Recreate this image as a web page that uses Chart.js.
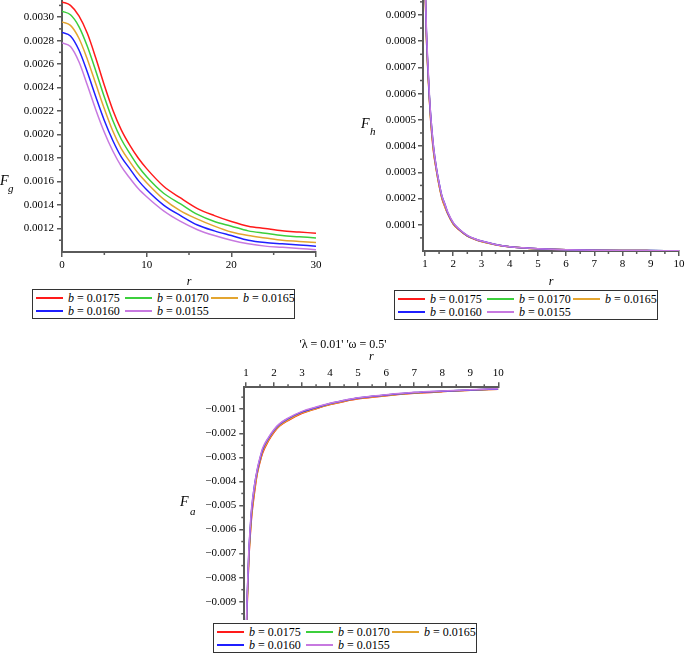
<!DOCTYPE html>
<html><head><meta charset="utf-8">
<script src="https://cdn.jsdelivr.net/npm/chart.js@4/dist/chart.umd.min.js"></script>
<style>
html,body{margin:0;padding:0;background:#fff;width:685px;height:656px;overflow:hidden;}
body{position:relative;font-family:"Liberation Serif",serif;}
canvas{position:absolute;}
.lab{position:absolute;font-family:"Liberation Serif",serif;font-style:italic;color:#000;line-height:1;white-space:nowrap;z-index:3;}
.leg{position:absolute;border:1.5px solid #333;box-sizing:border-box;background:#fff;z-index:2;}
.it{position:absolute;height:12px;font-size:12px;line-height:12px;white-space:nowrap;color:#000;}
.it .ln{position:absolute;left:0;top:5px;width:27px;height:2px;}
.it .tx{position:absolute;left:32px;top:0;}
</style></head>
<body>
<canvas id="c1" width="340" height="290" style="left:0;top:0"></canvas>
<canvas id="c2" width="340" height="290" style="left:345px;top:0"></canvas>
<canvas id="c3" width="366" height="290" style="left:160px;top:330px"></canvas>

<div class="lab" style="left:0px;top:174px;font-size:14px">F</div>
<div class="lab" style="left:8px;top:183px;font-size:11px">g</div>
<div class="lab" style="left:361px;top:117px;font-size:14px">F</div>
<div class="lab" style="left:370px;top:126px;font-size:11px">h</div>
<div class="lab" style="left:180px;top:495px;font-size:14px">F</div>
<div class="lab" style="left:190px;top:506px;font-size:11px">a</div>

<div id="leg1" class="leg" style="left:32px;top:289px;width:263px;height:30px"></div>
<div id="leg2" class="leg" style="left:394px;top:290px;width:264px;height:30px"></div>
<div id="leg3" class="leg" style="left:213px;top:623px;width:264px;height:30px"></div>

<script>
// ---------- data ----------
const bValues = ['0.0175', '0.0170', '0.0165', '0.0160', '0.0155'];
const colors = ['#ff1a1a', '#3ccf3c', '#e3a530', '#1f1fff', '#c779e0'];

// F_g panel
const rG = [0, 1, 2, 3, 4, 5, 6, 7, 8, 9, 10, 12, 14, 16, 18, 20, 22, 24, 26, 28, 30];
const fg0175 = [0.00313, 0.00310, 0.00301, 0.00286, 0.00265, 0.00242, 0.00221, 0.00204, 0.00191, 0.00180, 0.00171, 0.00156, 0.00146, 0.00137, 0.00131, 0.00126, 0.00122, 0.00120, 0.00118, 0.00117, 0.00116];
const fg0170 = [0.00305, 0.00302, 0.00292, 0.00275, 0.00254, 0.00232, 0.00212, 0.00196, 0.00184, 0.00173, 0.00164, 0.00150, 0.00141, 0.00132, 0.00126, 0.00122, 0.00118, 0.00116, 0.00114, 0.00113, 0.00112];
const fg0165 = [0.00296, 0.00293, 0.00282, 0.00264, 0.00243, 0.00222, 0.00203, 0.00188, 0.00177, 0.00167, 0.00159, 0.00145, 0.00135, 0.00128, 0.00122, 0.00117, 0.00114, 0.00112, 0.00110, 0.00109, 0.00108];
const fg0160 = [0.00287, 0.00284, 0.00272, 0.00253, 0.00232, 0.00212, 0.00195, 0.00181, 0.00171, 0.00161, 0.00153, 0.00140, 0.00131, 0.00123, 0.00118, 0.00114, 0.00110, 0.00108, 0.00107, 0.00106, 0.00105];
const fg0155 = [0.00278, 0.00275, 0.00262, 0.00242, 0.00221, 0.00202, 0.00186, 0.00173, 0.00163, 0.00154, 0.00147, 0.00135, 0.00126, 0.00119, 0.00114, 0.00110, 0.00107, 0.00105, 0.00104, 0.00103, 0.00102];
const gXTicks = [0, 10, 20, 30];
const gXMinor = [5, 15, 25];
const gYTicks = [0.0012, 0.0014, 0.0016, 0.0018, 0.0020, 0.0022, 0.0024, 0.0026, 0.0028, 0.0030];
const gYMinor = [0.0011, 0.0013, 0.0015, 0.0017, 0.0019, 0.0021, 0.0023, 0.0025, 0.0027, 0.0029, 0.0031];

// F_h panel
const rH = [1, 1.05, 1.1, 1.15, 1.2, 1.3, 1.4, 1.5, 1.6, 1.7, 1.8, 2, 2.2, 2.5, 2.8, 3, 3.5, 4, 4.5, 5, 6, 7, 8, 9, 10];
const fh0175 = [0.00102, 0.00082, 0.00069, 0.00059, 0.00050, 0.00038, 0.00031, 0.00025, 0.00020, 0.00017, 0.000143, 0.000103, 0.000081, 0.000057, 0.000043, 0.000036, 0.000024, 0.000016, 0.0000115, 0.0000085, 0.0000048, 0.0000029, 0.0000019, 0.0000014, 0.0000010];
const fh0170 = [0.00103, 0.00083, 0.00070, 0.00060, 0.00051, 0.00039, 0.000315, 0.000255, 0.000205, 0.000175, 0.000146, 0.000105, 0.000083, 0.000058, 0.000044, 0.000037, 0.0000245, 0.0000163, 0.0000118, 0.0000087, 0.0000049, 0.0000030, 0.0000020, 0.0000015, 0.0000010];
const fh0165 = [0.00102, 0.00082, 0.00070, 0.00059, 0.00051, 0.00039, 0.00031, 0.00025, 0.000205, 0.00017, 0.000145, 0.000104, 0.000082, 0.000058, 0.000044, 0.000036, 0.000024, 0.000016, 0.0000117, 0.0000086, 0.0000048, 0.0000029, 0.0000019, 0.0000014, 0.0000010];
const fh0160 = [0.00104, 0.00084, 0.00071, 0.00060, 0.00052, 0.00040, 0.00032, 0.00026, 0.00021, 0.00018, 0.000148, 0.000107, 0.000084, 0.000059, 0.000045, 0.000038, 0.000025, 0.0000165, 0.000012, 0.0000088, 0.0000050, 0.0000030, 0.0000020, 0.0000015, 0.0000010];
const fh0155 = [0.00105, 0.00085, 0.00072, 0.00061, 0.00052, 0.00040, 0.00032, 0.00026, 0.00021, 0.00018, 0.000150, 0.000108, 0.000085, 0.000060, 0.000045, 0.000038, 0.000025, 0.0000166, 0.000012, 0.0000089, 0.0000050, 0.0000030, 0.0000020, 0.0000015, 0.0000010];
const hXTicks = [1, 2, 3, 4, 5, 6, 7, 8, 9, 10];
const hXMinor = [1.5, 2.5, 3.5, 4.5, 5.5, 6.5, 7.5, 8.5, 9.5];
const hYTicks = [0.0001, 0.0002, 0.0003, 0.0004, 0.0005, 0.0006, 0.0007, 0.0008, 0.0009];
const hYMinor = [0.00005, 0.00015, 0.00025, 0.00035, 0.00045, 0.00055, 0.00065, 0.00075, 0.00085, 0.00095];

// F_a panel
const rA = [1, 1.02, 1.05, 1.1, 1.15, 1.2, 1.3, 1.4, 1.5, 1.6, 1.8, 2, 2.2, 2.5, 3, 3.5, 4, 4.5, 5, 6, 7, 8, 9, 10];
const fa0175 = [-0.0118, -0.0103, -0.0089, -0.0073, -0.0063, -0.0055, -0.0045, -0.0037, -0.0032, -0.0028, -0.00232, -0.00196, -0.00170, -0.00147, -0.00117, -0.00098, -0.00081, -0.00068, -0.00057, -0.00044, -0.00034, -0.00027, -0.00021, -0.00017];
const fa0170 = [-0.0115, -0.0100, -0.0087, -0.0071, -0.0061, -0.0053, -0.0043, -0.0036, -0.0031, -0.0027, -0.00225, -0.00190, -0.00165, -0.00142, -0.00113, -0.00095, -0.00078, -0.00065, -0.00054, -0.00042, -0.00032, -0.00025, -0.00020, -0.00016];
const fa0165 = [-0.0117, -0.0102, -0.0088, -0.0072, -0.0062, -0.0054, -0.0044, -0.00365, -0.00315, -0.00275, -0.00229, -0.00193, -0.00168, -0.00145, -0.00115, -0.00097, -0.00080, -0.00067, -0.00056, -0.00043, -0.00033, -0.00026, -0.00021, -0.00017];
const fa0160 = [-0.0114, -0.0099, -0.0086, -0.0070, -0.0060, -0.0052, -0.0042, -0.00355, -0.00305, -0.00265, -0.00221, -0.00187, -0.00162, -0.00139, -0.00111, -0.00093, -0.00076, -0.00064, -0.00053, -0.00041, -0.00031, -0.00025, -0.00020, -0.00016];
const fa0155 = [-0.0113, -0.0098, -0.0085, -0.0069, -0.0059, -0.0051, -0.0042, -0.0035, -0.0030, -0.0026, -0.00218, -0.00184, -0.00160, -0.00137, -0.00109, -0.00091, -0.00075, -0.00063, -0.00052, -0.00040, -0.00030, -0.00024, -0.00019, -0.00015];
const aXTicks = [1, 2, 3, 4, 5, 6, 7, 8, 9, 10];
const aXMinor = [1.5, 2.5, 3.5, 4.5, 5.5, 6.5, 7.5, 8.5, 9.5];
const aYTicks = [-0.001, -0.002, -0.003, -0.004, -0.005, -0.006, -0.007, -0.008, -0.009];
const aYMinor = [-0.0005, -0.0015, -0.0025, -0.0035, -0.0045, -0.0055, -0.0065, -0.0075, -0.0085, -0.0095];
const aTitle = "'λ = 0.01' 'ω = 0.5'";

// ---------- helpers ----------
const FONT = '"Liberation Serif", "Times New Roman", serif';
const AXC = '#5a5a5a';

function series(xs, ys, i) {
  return {
    label: 'b = ' + bValues[i],
    data: xs.map((x, k) => ({x: x, y: ys[k]})),
    borderColor: colors[i], backgroundColor: colors[i],
    borderWidth: 1.5, pointRadius: 0, fill: false,
    cubicInterpolationMode: 'monotone', order: 5 - i
  };
}

const minorTicks = {
  id: 'minorTicks',
  afterDraw(chart, args, o) {
    const ctx = chart.ctx, a = chart.chartArea;
    ctx.save(); ctx.strokeStyle = AXC; ctx.lineWidth = 1.5;
    (o.x || []).forEach(v => {
      const p = chart.scales.x.getPixelForValue(v);
      ctx.beginPath();
      if (o.top) { ctx.moveTo(p, a.top); ctx.lineTo(p, a.top - 3); }
      else { ctx.moveTo(p, a.bottom); ctx.lineTo(p, a.bottom + 3); }
      ctx.stroke();
    });
    (o.y || []).forEach(v => {
      const p = chart.scales.y.getPixelForValue(v);
      ctx.beginPath(); ctx.moveTo(a.left, p); ctx.lineTo(a.left - 3, p); ctx.stroke();
    });
    ctx.restore();
  }
};

function axis(cfg) {
  return {
    type: 'linear', position: cfg.position, min: cfg.min, max: cfg.max,
    afterBuildTicks: s => { s.ticks = cfg.ticks.map(v => ({value: v})); },
    afterFit: s => {
      if (cfg.width !== undefined) s.width = cfg.width;
      if (cfg.height !== undefined) s.height = cfg.height;
      s.paddingTop = 0; s.paddingBottom = 0; s.paddingLeft = 0; s.paddingRight = 0;
    },
    grid: {display: true, drawOnChartArea: false, drawTicks: true, tickLength: 5, color: AXC, lineWidth: 1.5},
    border: {display: true, color: AXC, width: 2},
    ticks: {autoSkip: false, maxRotation: 0, padding: cfg.pad, color: '#000',
            font: {family: FONT, size: 11}, callback: cfg.fmt},
    title: cfg.title ? {display: true, text: cfg.title, color: '#000',
            font: {family: FONT, size: 12, style: 'italic', lineHeight: 1}, padding: cfg.tpad} : {display: false}
  };
}

function makeChart(id, datasets, scales, pad, minor, title) {
  return new Chart(document.getElementById(id), {
    type: 'line',
    data: {datasets: datasets},
    options: {
      responsive: false, animation: false, devicePixelRatio: 1, events: [],
      layout: {padding: pad},
      scales: scales,
      plugins: {
        legend: {display: false}, tooltip: {enabled: false},
        title: title ? {display: true, text: title, color: '#000',
          font: {family: FONT, size: 12, weight: 'normal', lineHeight: 1}, padding: {top: 9, bottom: 0}} : {display: false},
        minorTicks: minor
      }
    },
    plugins: [minorTicks]
  });
}

// ---------- chart 1 : F_g ----------
makeChart('c1',
  [fg0175, fg0170, fg0165, fg0160, fg0155].map((d, i) => series(rG, d, i)),
  {
    x: axis({position: 'bottom', min: 0, max: 30, ticks: gXTicks, height: 38, pad: 2,
             fmt: v => String(v), title: 'r', tpad: {top: 0, bottom: 2}}),
    y: axis({position: 'left', min: 0.001, max: 0.003146, ticks: gYTicks, width: 62, pad: 3,
             fmt: v => v.toFixed(4)})
  },
  {left: 0, right: 24, top: 0, bottom: 0},
  {x: gXMinor, y: gYMinor}
);

// ---------- chart 2 : F_h ----------
makeChart('c2',
  [fh0175, fh0170, fh0165, fh0160, fh0155].map((d, i) => series(rH, d, i)),
  {
    x: axis({position: 'bottom', min: 0.93, max: 10, ticks: hXTicks, height: 39, pad: 2,
             fmt: v => String(v), title: 'r', tpad: {top: 0, bottom: 2}}),
    y: axis({position: 'left', min: 0, max: 0.000957, ticks: hYTicks, width: 78, pad: 2,
             fmt: v => v.toFixed(4)})
  },
  {left: 0, right: 6, top: 0, bottom: 0},
  {x: hXMinor, y: hYMinor}
);

// ---------- chart 3 : F_a ----------
makeChart('c3',
  [fa0175, fa0170, fa0165, fa0160, fa0155].map((d, i) => series(rA, d, i)),
  {
    x: axis({position: 'top', min: 0.94, max: 10, ticks: aXTicks, height: 36.3, pad: 3,
             fmt: v => String(v), title: 'r', tpad: {top: 0, bottom: 0}}),
    y: axis({position: 'left', min: -0.00976, max: -0.00009, ticks: aYTicks, width: 56.6, pad: 3,
             fmt: v => '\u2212' + Math.abs(v).toFixed(3)})
  },
  {left: 27.7, right: 27.7, top: 0, bottom: 0},
  {x: aXMinor, y: aYMinor, top: true},
  aTitle
);

// ---------- legends ----------
const colOff = [3, 92, 178];
const rowTop = [2, 15];
function buildLegend(id) {
  const box = document.getElementById(id);
  bValues.forEach((b, i) => {
    const row = i < 3 ? 0 : 1, col = i < 3 ? i : i - 3;
    const it = document.createElement('div');
    it.className = 'it';
    it.style.left = colOff[col] + 'px';
    it.style.top = rowTop[row] + 'px';
    it.innerHTML = '<span class="ln" style="background:' + colors[i] + '"></span>' +
                   '<span class="tx"><i>b</i> = ' + b + '</span>';
    box.appendChild(it);
  });
}
buildLegend('leg1'); buildLegend('leg2'); buildLegend('leg3');
</script>
</body></html>
